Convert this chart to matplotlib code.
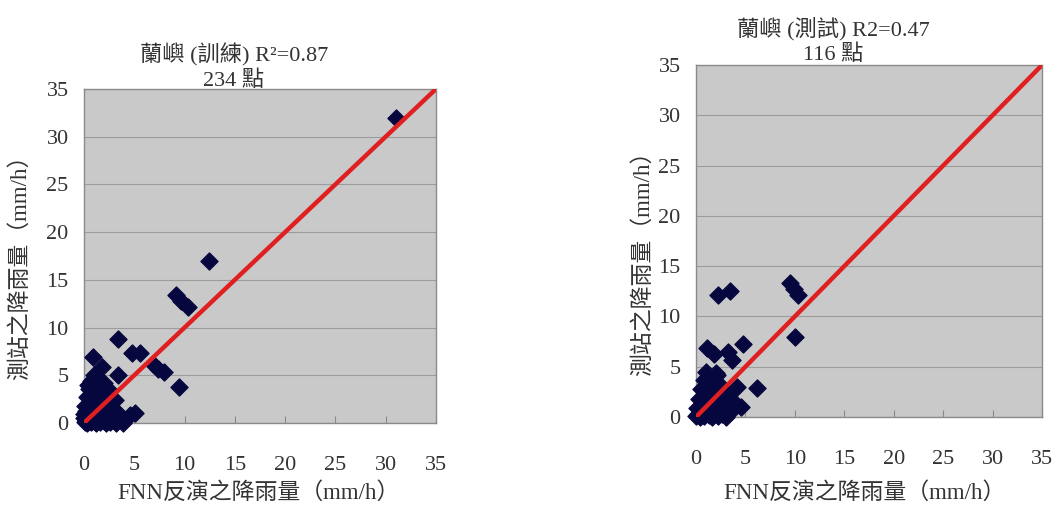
import numpy as np
import matplotlib
matplotlib.use("Agg")
import matplotlib.pyplot as plt

plt.rcParams['font.family'] = ['Liberation Serif', 'Noto Sans CJK TC', 'DejaVu Sans']

# training set (FNN retrieval vs gauge), mm/h
train_x = [31.0, 12.4, 9.2, 9.7, 10.3, 9.5, 3.4, 4.8, 5.6, 6.9, 7.4, 8.0, 3.4, 0.9, 1.8,
           4.6, 5.1, 3.9,
           0.1, 0.2, 0.3, 0.5, 0.4, 0.7, 0.8, 1.0, 1.2, 1.1, 1.4, 1.6, 1.8, 2.0, 2.2, 2.4,
           2.6, 2.9, 3.2, 3.5, 3.8, 0.0, 0.2, 0.6, 0.9, 1.3, 1.7, 2.1, 2.5, 3.0, 3.4, 0.1,
           0.5, 1.0, 1.5, 2.0, 2.6, 3.1, 0.3, 0.8, 1.3, 1.9, 2.4, 0.5, 1.1, 1.7, 0.7, 1.3,
           2.0, 1.0, 2.5, 0.0, 0.4, 1.5]
train_y = [32.0, 17.0, 13.4, 12.8, 12.2, 3.8, 8.8, 7.3, 7.3, 6.2, 5.7, 5.3, 5.0, 6.9, 5.9,
           0.8, 1.0, 0.0,
           0.1, 0.3, 0.0, 0.2, 0.6, 0.1, 0.5, 0.2, 0.0, 0.7, 0.3, 0.1, 0.5, 0.2, 0.0, 0.4,
           0.1, 0.3, 0.0, 0.5, 0.2, 0.9, 1.3, 1.1, 1.5, 1.2, 1.0, 1.3, 1.0, 1.4, 1.1, 1.8,
           2.0, 2.2, 1.9, 2.3, 2.0, 2.4, 2.7, 3.0, 2.8, 3.1, 2.9, 3.6, 3.8, 3.5, 4.4, 4.6,
           4.2, 5.0, 3.5, 0.5, 4.0, 4.0]

# test set
test_x = [2.2, 3.4, 9.5, 9.9, 10.3, 10.0, 1.1, 1.8, 3.2, 3.6, 4.8, 4.1, 6.2, 4.6,
          0.0, 0.2, 0.4, 0.6, 0.8, 1.0, 1.3, 1.6, 1.9, 2.2, 2.6, 3.0, 3.4, 0.1, 0.5, 0.9,
          1.4, 1.8, 2.3, 2.8, 0.3, 0.8, 1.3, 2.0, 2.7, 0.5, 1.0, 1.6, 2.4, 0.8, 1.5, 2.1,
          1.0, 2.0, 2.9, 3.5]
test_y = [12.1, 12.5, 13.3, 12.7, 12.1, 8.0, 6.9, 6.3, 6.5, 5.7, 7.3, 3.0, 2.9, 1.0,
          0.1, 0.3, 0.0, 0.4, 0.1, 0.5, 0.2, 0.0, 0.4, 0.1, 0.3, 0.0, 0.5, 0.9, 1.2, 0.8,
          1.3, 1.0, 1.4, 1.1, 1.8, 2.1, 1.7, 2.2, 1.9, 2.8, 3.0, 2.7, 3.2, 3.7, 3.5, 4.2,
          4.5, 4.4, 2.5, 1.8]

ticks = [0, 5, 10, 15, 20, 25, 30, 35]
titles = ['蘭嶼 (訓練) R²=0.87\n234 點', '蘭嶼 (測試) R2=0.47\n116 點']
xlabel = 'FNN反演之降雨量（mm/h）'
ylabel = '測站之降雨量（mm/h）'

fig = plt.figure(figsize=(10.56, 5.11), dpi=100)
ax1 = fig.add_axes([0.0795, 0.1722, 0.3333, 0.6536])
ax2 = fig.add_axes([0.6591, 0.184, 0.3277, 0.6888])

txt = '#333333'
for ax, xs, ys in [(ax1, train_x, train_y), (ax2, test_x, test_y)]:
    ax.set_facecolor('#c9c9c9')
    ax.set_xlim(0, 35)
    ax.set_ylim(0, 35)
    ax.set_xticks(ticks)
    ax.set_yticks(ticks)
    ax.yaxis.grid(True, color='#9c9c9c', lw=0.8)
    ax.set_axisbelow(True)
    for s in ax.spines.values():
        s.set_color('#8a8a8a')
        s.set_linewidth(1.0)
    ax.tick_params(axis='x', direction='in', length=5, color='#8a8a8a',
                   pad=24, labelsize=16, labelcolor=txt)
    ax.tick_params(axis='y', length=0, pad=11, labelsize=16, labelcolor=txt)
    ax.scatter(xs, ys, marker='D', s=75, color='#07073f', zorder=3, clip_on=False)
    ax.plot([0, 35], [0, 35], color='#e02020', lw=3.2, zorder=4)

# titles / labels placed in figure pixels
W, H = 1056, 511
fig.text(234 / W, 1 - 67 / H, titles[0], ha='center', va='center', fontsize=16,
         color=txt, linespacing=1.25)
fig.text(833 / W, 1 - 41 / H, titles[1], ha='center', va='center', fontsize=16,
         color=txt, linespacing=1.25)
fig.text(258 / W, 1 - 493 / H, xlabel, ha='center', va='center', fontsize=16.5, color=txt)
fig.text(864 / W, 1 - 493 / H, xlabel, ha='center', va='center', fontsize=16.5, color=txt)
fig.text(20 / W, 1 - 262 / H, ylabel, ha='center', va='center', rotation=90,
         fontsize=16.5, color=txt)
fig.text(643 / W, 1 - 258 / H, ylabel, ha='center', va='center', rotation=90,
         fontsize=16.5, color=txt)

fig.savefig('out.png', dpi=100)
